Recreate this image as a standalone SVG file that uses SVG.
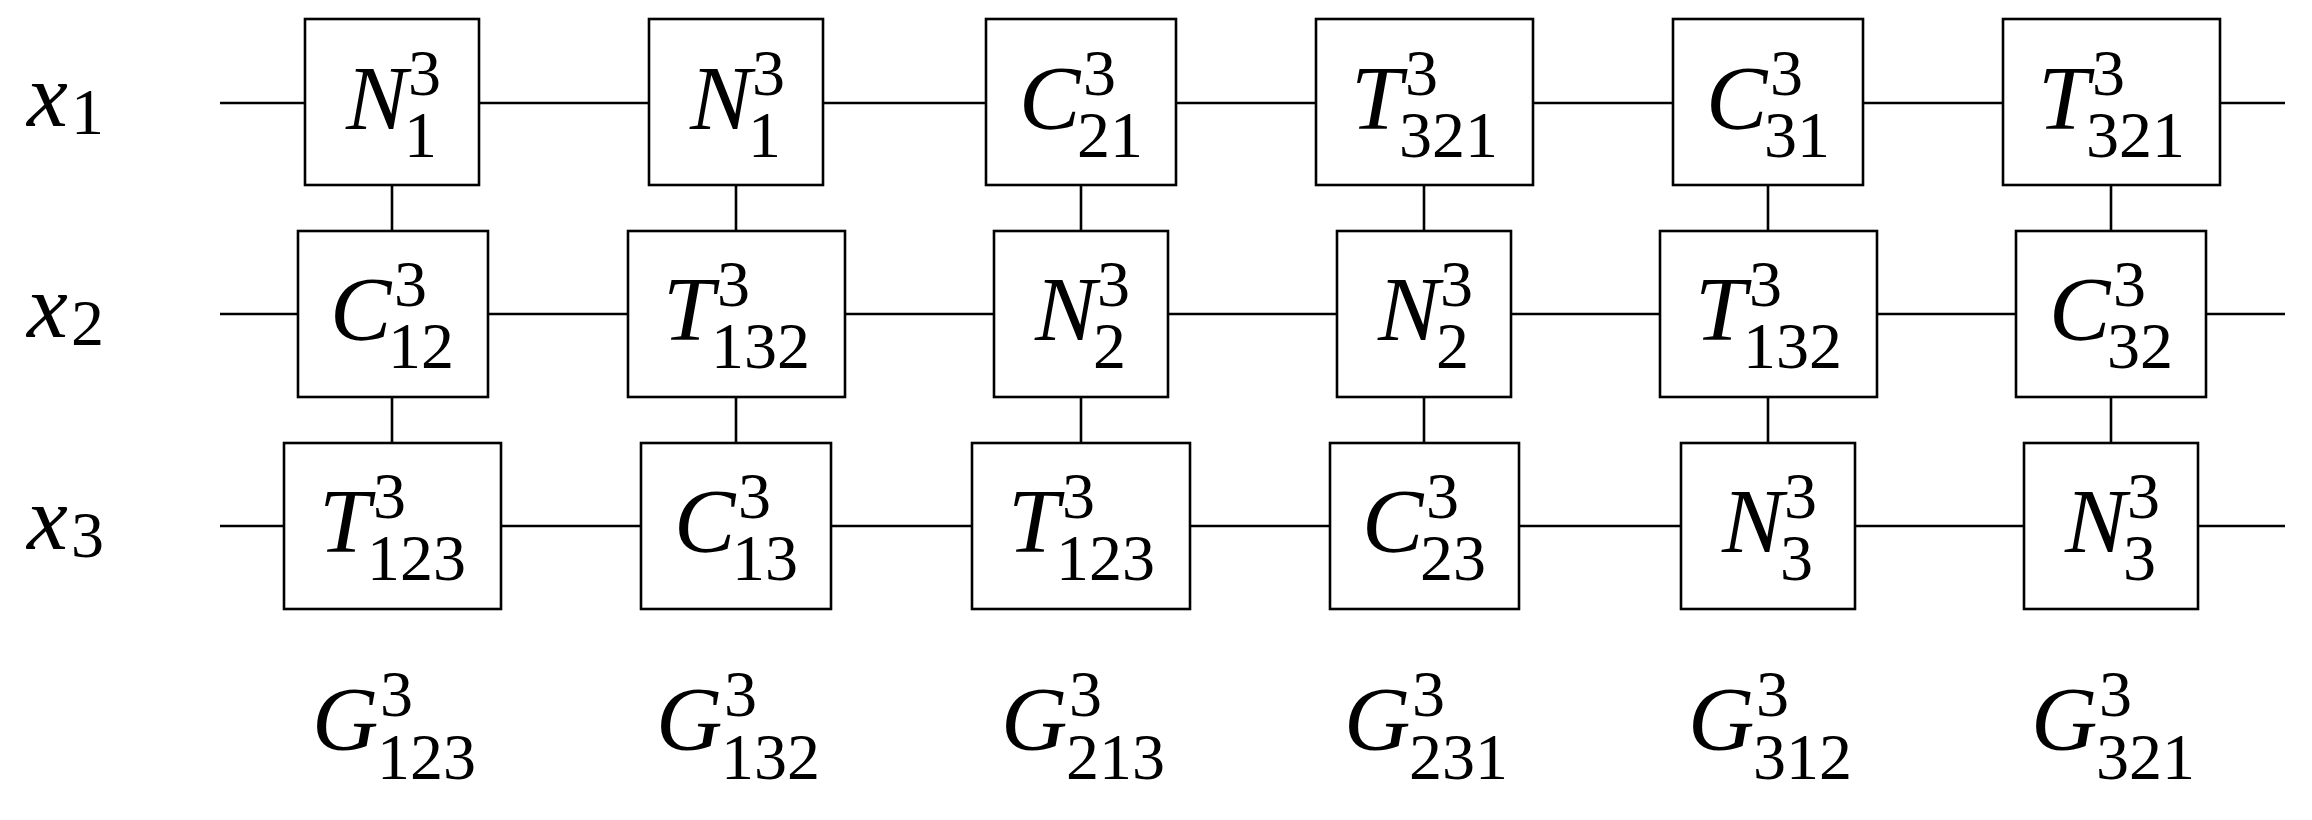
<svg xmlns="http://www.w3.org/2000/svg" width="2312" height="820" viewBox="0 0 2312 820">
<style>
.b{fill:#fff;stroke:#000;stroke-width:2.6}
.c{stroke:#000;stroke-width:2.6;fill:none}
text{font-family:"Liberation Serif",serif;fill:#000}
.L{font-style:italic;font-size:92px}
.d{font-size:66px}
</style>
<rect width="2312" height="820" fill="#fff"/>
<g id="connectors">
<line class="c" x1="220" y1="103" x2="2285" y2="103"/>
<line class="c" x1="220" y1="314" x2="2285" y2="314"/>
<line class="c" x1="220" y1="526" x2="2285" y2="526"/>
<line class="c" x1="392" y1="185" x2="392" y2="443"/>
<line class="c" x1="736" y1="185" x2="736" y2="443"/>
<line class="c" x1="1081" y1="185" x2="1081" y2="443"/>
<line class="c" x1="1424" y1="185" x2="1424" y2="443"/>
<line class="c" x1="1768" y1="185" x2="1768" y2="443"/>
<line class="c" x1="2111" y1="185" x2="2111" y2="443"/>
</g>
<g id="labels">
<text class="L" x="27" y="126">x</text><text class="d" x="71" y="134">1</text>
<text class="L" x="27" y="337">x</text><text class="d" x="71" y="345">2</text>
<text class="L" x="27" y="549">x</text><text class="d" x="71" y="557">3</text>
</g>
<g transform="translate(0,4)">
<g id="n11"><rect class="b" x="305" y="15" width="174" height="166"/><text class="L" x="346" y="125">N</text><text class="d" x="408" y="91">3</text><text class="d" x="404" y="153">1</text></g>
<g id="n12"><rect class="b" x="649" y="15" width="174" height="166"/><text class="L" x="690" y="125">N</text><text class="d" x="752" y="91">3</text><text class="d" x="748" y="153">1</text></g>
<g id="n13"><rect class="b" x="986" y="15" width="190" height="166"/><text class="L" x="1019" y="125">C</text><text class="d" x="1083" y="91">3</text><text class="d" x="1077" y="153">21</text></g>
<g id="n14"><rect class="b" x="1316" y="15" width="217" height="166"/><text class="L" x="1351" y="125">T</text><text class="d" x="1405" y="91">3</text><text class="d" x="1399" y="153">321</text></g>
<g id="n15"><rect class="b" x="1673" y="15" width="190" height="166"/><text class="L" x="1706" y="125">C</text><text class="d" x="1770" y="91">3</text><text class="d" x="1764" y="153">31</text></g>
<g id="n16"><rect class="b" x="2003" y="15" width="217" height="166"/><text class="L" x="2038" y="125">T</text><text class="d" x="2092" y="91">3</text><text class="d" x="2086" y="153">321</text></g>
</g>
<g transform="translate(0,6)">
<g id="n21"><rect class="b" x="298" y="225" width="190" height="166"/><text class="L" x="330" y="334">C</text><text class="d" x="394" y="300">3</text><text class="d" x="388" y="362">12</text></g>
<g id="n22"><rect class="b" x="628" y="225" width="217" height="166"/><text class="L" x="663" y="334">T</text><text class="d" x="717" y="300">3</text><text class="d" x="711" y="362">132</text></g>
<g id="n23"><rect class="b" x="994" y="225" width="174" height="166"/><text class="L" x="1035" y="334">N</text><text class="d" x="1097" y="300">3</text><text class="d" x="1093" y="362">2</text></g>
<g id="n24"><rect class="b" x="1337" y="225" width="174" height="166"/><text class="L" x="1378" y="334">N</text><text class="d" x="1440" y="300">3</text><text class="d" x="1436" y="362">2</text></g>
<g id="n25"><rect class="b" x="1660" y="225" width="217" height="166"/><text class="L" x="1695" y="334">T</text><text class="d" x="1749" y="300">3</text><text class="d" x="1743" y="362">132</text></g>
<g id="n26"><rect class="b" x="2016" y="225" width="190" height="166"/><text class="L" x="2049" y="334">C</text><text class="d" x="2113" y="300">3</text><text class="d" x="2107" y="362">32</text></g>
</g>
<g transform="translate(0,10)">
<g id="n31"><rect class="b" x="284" y="433" width="217" height="166"/><text class="L" x="319" y="542">T</text><text class="d" x="373" y="508">3</text><text class="d" x="367" y="570">123</text></g>
<g id="n32"><rect class="b" x="641" y="433" width="190" height="166"/><text class="L" x="674" y="542">C</text><text class="d" x="738" y="508">3</text><text class="d" x="732" y="570">13</text></g>
<g id="n33"><rect class="b" x="972" y="433" width="218" height="166"/><text class="L" x="1008" y="542">T</text><text class="d" x="1062" y="508">3</text><text class="d" x="1056" y="570">123</text></g>
<g id="n34"><rect class="b" x="1330" y="433" width="189" height="166"/><text class="L" x="1362" y="542">C</text><text class="d" x="1426" y="508">3</text><text class="d" x="1420" y="570">23</text></g>
<g id="n35"><rect class="b" x="1681" y="433" width="174" height="166"/><text class="L" x="1722" y="542">N</text><text class="d" x="1784" y="508">3</text><text class="d" x="1780" y="570">3</text></g>
<g id="n36"><rect class="b" x="2024" y="433" width="174" height="166"/><text class="L" x="2065" y="542">N</text><text class="d" x="2127" y="508">3</text><text class="d" x="2123" y="570">3</text></g>
</g>
<g id="g1"><text class="L" x="312" y="750">G</text><text class="d" x="380" y="716">3</text><text class="d" x="377" y="779">123</text></g>
<g id="g2"><text class="L" x="656" y="750">G</text><text class="d" x="724" y="716">3</text><text class="d" x="721" y="779">132</text></g>
<g id="g3"><text class="L" x="1001" y="750">G</text><text class="d" x="1069" y="716">3</text><text class="d" x="1066" y="779">213</text></g>
<g id="g4"><text class="L" x="1344" y="750">G</text><text class="d" x="1412" y="716">3</text><text class="d" x="1409" y="779">231</text></g>
<g id="g5"><text class="L" x="1688" y="750">G</text><text class="d" x="1756" y="716">3</text><text class="d" x="1753" y="779">312</text></g>
<g id="g6"><text class="L" x="2031" y="750">G</text><text class="d" x="2099" y="716">3</text><text class="d" x="2096" y="779">321</text></g>
</svg>
